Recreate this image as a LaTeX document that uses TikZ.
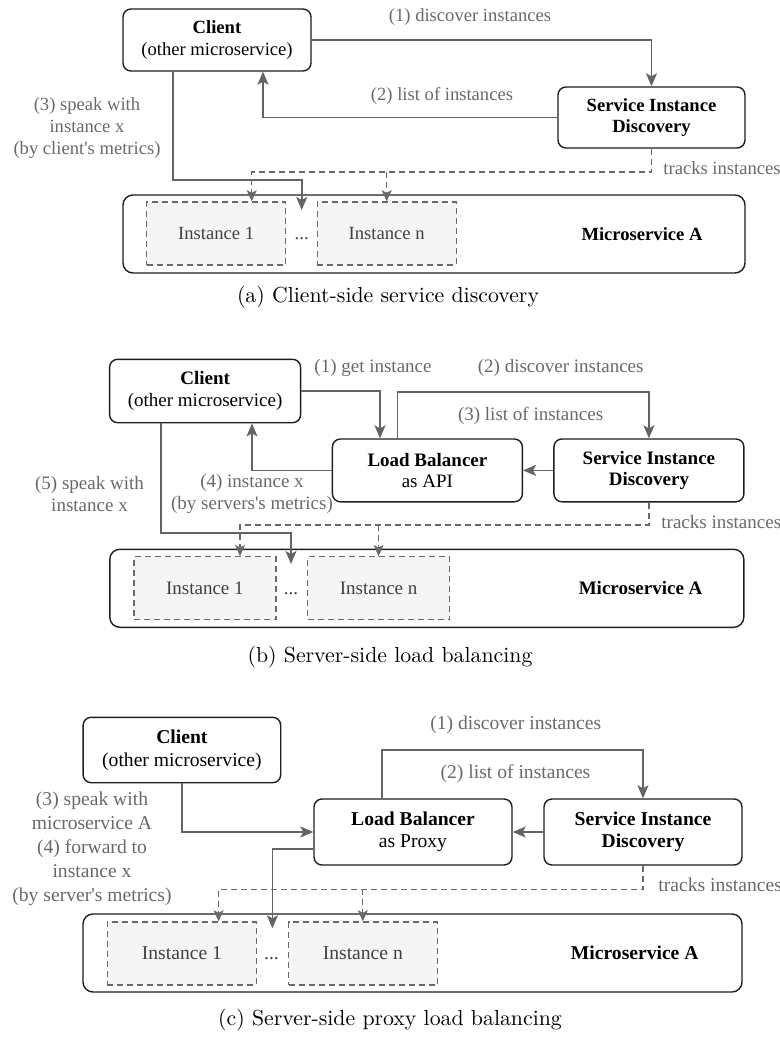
\documentclass[tikz,border=0pt]{standalone}
\usepackage{fontspec}
\newfontfamily\diag{Liberation Serif}
\usetikzlibrary{arrows.meta}
\definecolor{edge}{RGB}{30,30,30}
\definecolor{soft}{RGB}{105,105,105}
\definecolor{wire}{RGB}{100,100,100}
\definecolor{instfill}{RGB}{245,245,245}
\newcommand\dsize{9.3}
\newcommand\dskip{10.7}
\newcommand\nskip{11}
\newcommand\diagfont{\diag\fontsize{\dsize}{\dskip}\selectfont}
\newcommand\notefont{\diag\fontsize{\dsize}{\nskip}\selectfont}
\newcommand\capfont{\fontsize{10.9}{13}\selectfont}
\tikzset{
  box/.style={draw=edge, rounded corners=4pt, line width=0.7pt, fill=white,
              inner sep=2pt, font=\diagfont, align=center},
  service/.style={draw=edge, rounded corners=5pt, line width=0.7pt, fill=white},
  inst/.style={draw=soft, dash pattern=on 3pt off 2pt, line width=0.6pt, fill=instfill,
               font=\diagfont, text=black!75, minimum height=31.5pt},
  dots/.style={font=\diagfont, text=black!75, anchor=base},
  note/.style={font=\notefont, text=soft, align=center},
  tracknote/.style={font=\notefont, text=soft, anchor=west, inner sep=0pt},
  flow/.style={-{Stealth[length=6.5pt,width=5.5pt,inset=1.5pt]}, wire, line width=0.8pt},
  track/.style={-{Stealth[length=5.6pt,width=5pt,inset=1.3pt]}, soft, line width=0.6pt,
                dash pattern=on 3pt off 2pt},
}
\begin{document}
\begin{tikzpicture}[x=0.5pt,y=-0.5pt]
  \useasboundingbox (0,0) rectangle (780,1038);
  % (a) client-side discovery
  \node[box, minimum width=94pt, minimum height=31pt] (cliA) at (217,40) {\textbf{Client}\\(other microservice)};
  \node[box, minimum width=93.5pt, minimum height=30.5pt] (sidA) at (651.5,117.5) {\textbf{Service Instance}\\\textbf{Discovery}};
  \node[service, minimum width=311pt, minimum height=39pt] (msA) at (434,234) {};
  \node[inst, minimum width=69.5pt] (in1A) at (216.2,233.5) {Instance 1};
  \node[inst, minimum width=69.5pt] (innA) at (386.7,233.5) {Instance n};
  \node[dots] (dotsA) at (in1A.base -| 301.7,0) {...};
  \node[font=\diagfont\bfseries] (msnameA) at (642,234) {Microservice A};
  \coordinate (talkA) at (173,180);
  \coordinate (tipA) at (301.7,210);
  \coordinate (trkA) at (251.7,172);
  \draw[flow] (cliA.east) -| (sidA.north);
  \draw[flow] (sidA.west) -| (cliA.south -| 263,0);
  \draw[flow] (cliA.south -| talkA) -- (talkA) -| (tipA);
  \draw[track] (sidA.south) |- (trkA) -- (in1A.north -| trkA);
  \draw[track] (innA.north |- trkA) -- (innA.north);
  \node[note] (stepA1) at (470,17) {(1) discover instances};
  \node[note] (stepA2) at (442,96) {(2) list of instances};
  \node[note] (stepA3) at (87,128) {(3) speak with\\instance x\\(by client's metrics)};
  \node[tracknote] (trackA) at (663,168) {tracks instances};
  \node[font=\capfont] (capA) at (388,297) {(a) Client-side service discovery};
  % (b) server-side load balancing
  \begin{scope}
  \renewcommand\dsize{9.5}\renewcommand\dskip{10.9}\renewcommand\nskip{11.2}
  \node[box, minimum width=95.5pt, minimum height=31.7pt] (cliB) at (205.1,391) {\textbf{Client}\\(other microservice)};
  \node[box, minimum width=95pt, minimum height=31.4pt] (lbB) at (427.4,470.4) {\textbf{Load Balancer}\\as API};
  \node[box, minimum width=95pt, minimum height=31.4pt] (sidB) at (648.9,470.4) {\textbf{Service Instance}\\\textbf{Discovery}};
  \node[service, minimum width=317pt, minimum height=39pt] (msB) at (426.8,588.3) {};
  \node[inst, minimum width=71pt] (in1B) at (204.9,588.3) {Instance 1};
  \node[inst, minimum width=71pt] (innB) at (378.6,588.3) {Instance n};
  \node[dots] (dotsB) at (in1B.base -| 291,0) {...};
  \node[font=\diagfont\bfseries] (msnameB) at (640.6,588.3) {Microservice A};
  \coordinate (discB) at (397.4,391.7);
  \coordinate (talkB) at (160.8,532.7);
  \coordinate (tipB) at (291,564);
  \coordinate (trkB) at (240,525);
  \draw[flow] (cliB.east) -| (lbB.north -| 380,0);
  \draw[flow] (lbB.north -| discB) -- (discB) -| (sidB.north);
  \draw[flow] (sidB.west) -- (lbB.east);
  \draw[flow] (lbB.west) -| (cliB.south -| 252,0);
  \draw[flow] (cliB.south -| talkB) -- (talkB) -| (tipB);
  \draw[track] (sidB.south) |- (trkB) -- (in1B.north -| trkB);
  \draw[track] (innB.north |- trkB) -- (innB.north);
  \node[note] (stepB1) at (373,368.3) {(1) get instance};
  \node[note] (stepB2) at (560.7,368.3) {(2) discover instances};
  \node[note] (stepB3) at (530.6,416) {(3) list of instances};
  \node[note] (stepB4) at (252,494) {(4) instance x\\(by servers's metrics)};
  \node[note] (stepB5) at (89.5,494) {(5) speak with\\instance x};
  \node[tracknote] (trackB) at (661,521.7) {tracks instances};
  \end{scope}
  \node[font=\capfont] (capB) at (390,657) {(b) Server-side load balancing};
  % (c) server-side proxy
  \begin{scope}
  \renewcommand\dsize{9.8}\renewcommand\dskip{11.3}\renewcommand\nskip{11.9}
  \node[box, minimum width=98.8pt, minimum height=32.7pt] (cliC) at (181.9,750) {\textbf{Client}\\(other microservice)};
  \node[box, minimum width=99pt, minimum height=33pt] (lbC) at (413,832) {\textbf{Load Balancer}\\as Proxy};
  \node[box, minimum width=99pt, minimum height=33pt] (sidC) at (643,832) {\textbf{Service Instance}\\\textbf{Discovery}};
  \node[service, minimum width=329.5pt, minimum height=39pt] (msC) at (412.5,953) {};
  \node[inst, minimum width=74.5pt] (in1C) at (181.9,953.5) {Instance 1};
  \node[inst, minimum width=74.3pt] (innC) at (362.8,953.5) {Instance n};
  \node[dots] (dotsC) at (in1C.base -| 271.5,0) {...};
  \node[font=\diagfont\bfseries] (msnameC) at (634.7,953) {Microservice A};
  \coordinate (discC) at (382,750);
  \coordinate (tipC) at (272.4,928.3);
  \coordinate (trkC) at (218.6,889.3);
  \draw[flow] (lbC.north -| discC) -- (discC) -| (sidC.north);
  \draw[flow] (sidC.west) -- (lbC.east);
  \draw[flow] (cliC.south) |- (lbC.west);
  \draw[flow] ([yshift=-8.6pt]lbC.west) -| (tipC);
  \draw[track] (sidC.south) |- (trkC) -- (in1C.north -| trkC);
  \draw[track] (innC.north |- trkC) -- (innC.north);
  \node[note] (stepC1) at (515.7,724.3) {(1) discover instances};
  \node[note] (stepC2) at (515.5,773.3) {(2) list of instances};
  \node[note] (stepC3) at (92,811) {(3) speak with\\microservice A};
  \node[note] (stepC4) at (92,872.5) {(4) forward to\\instance x\\(by server's metrics)};
  \node[tracknote] (trackC) at (658,885) {tracks instances};
  \end{scope}
  \node[font=\capfont] (capC) at (390,1020) {(c) Server-side proxy load balancing};
\end{tikzpicture}
\end{document}
